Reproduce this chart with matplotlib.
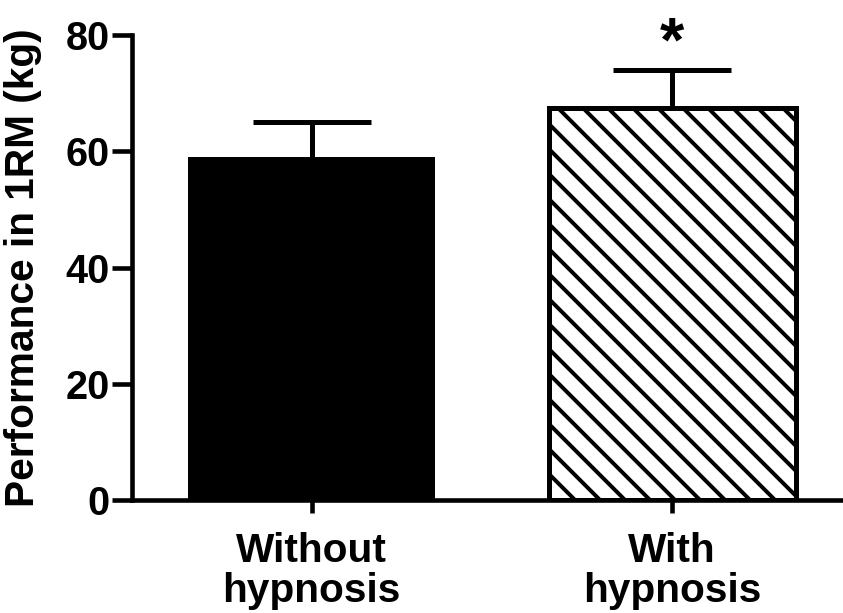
import matplotlib
matplotlib.use("Agg")
import matplotlib.pyplot as plt
import numpy as np

# data
groups = ["Without\nhypnosis", "With\nhypnosis"]
means = [59.0, 67.5]
sem = [6.0, 6.5]
signif = ["", "*"]
yticks = [0, 20, 40, 60, 80]

plt.rcParams['font.family'] = ['Liberation Sans', 'DejaVu Sans']
plt.rcParams['font.weight'] = 'bold'
plt.rcParams['hatch.linewidth'] = 1.9
plt.rcParams['hatch.color'] = 'black'

DPI = 150
fig = plt.figure(figsize=(843 / DPI, 613 / DPI), dpi=DPI)
ax = fig.add_axes([0.1566, 0.1843, 0.8434, 0.7586])

x = np.arange(len(groups))
width = 0.685

ax.bar(x[0], means[0], width, color='black', edgecolor='black', linewidth=0, zorder=2)
ax.bar(x[1], means[1], width, color='white', edgecolor='black', linewidth=2.4,
       hatch='\\\\', zorder=2)

# upward-only error bars (GraphPad style)
for i in range(len(groups)):
    eb = ax.errorbar(x[i], means[i], yerr=[[0], [sem[i]]], fmt='none', ecolor='black',
                     elinewidth=2.4, capsize=28.5, capthick=2.4, zorder=1)
    # drop the cap that sits on the bar top
    for cap in eb[1]:
        if np.allclose(cap.get_ydata(), means[i]):
            cap.set_visible(False)
    if signif[i]:
        ax.text(x[i], means[i] + sem[i] - 0.6, signif[i], ha='center', va='bottom',
                fontsize=30, fontweight='bold')

ax.set_xlim(-0.498, 1.474)
ax.set_ylim(0, 80)
ax.set_yticks(yticks)
ax.set_xticks(x)
ax.set_xticklabels(groups, fontsize=19.5, fontweight='bold', linespacing=1.05)
ax.tick_params(axis='y', labelsize=19, width=2.2, length=9.6, pad=1)
ax.tick_params(axis='x', width=2.2, length=6.4, pad=9)
ax.set_ylabel('Performance in 1RM (kg)', fontsize=19.5, fontweight='bold')
ax.yaxis.set_label_coords(-0.127, 0.5)

for side in ['top', 'right']:
    ax.spines[side].set_visible(False)
for side in ['left', 'bottom']:
    ax.spines[side].set_linewidth(2.2)
ax.spines['left'].set_bounds(0, 80)

fig.savefig('out.png', dpi=DPI)
